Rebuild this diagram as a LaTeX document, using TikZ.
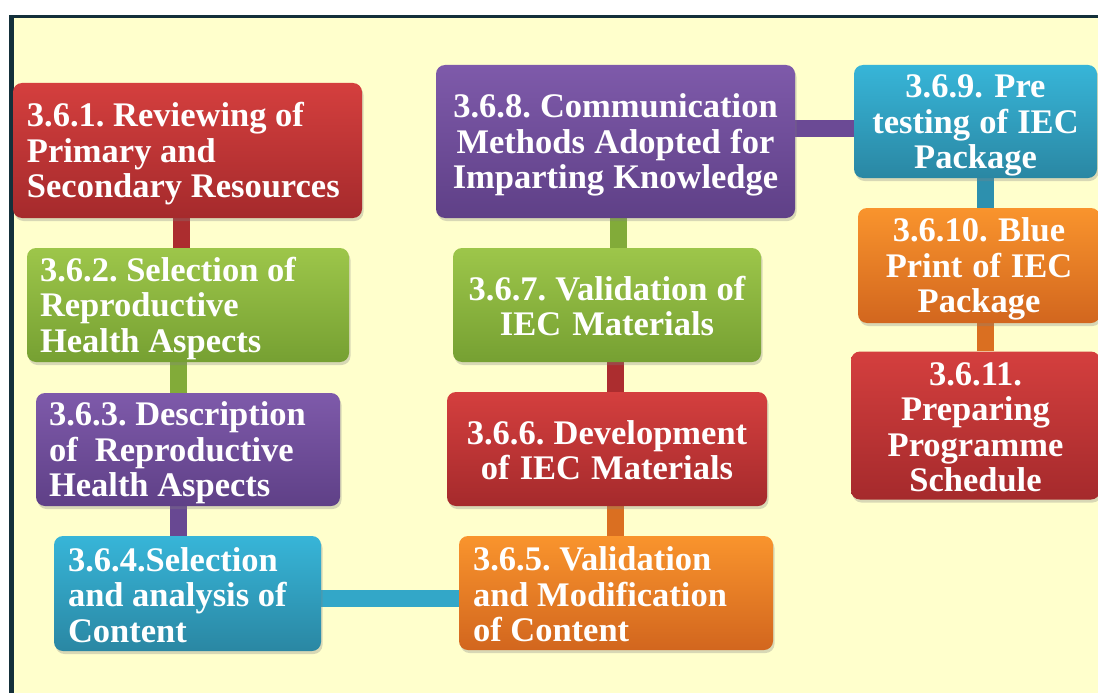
\documentclass[tikz,border=0pt]{standalone}
\usepackage{fontspec}
\setmainfont{Liberation Serif}
\usetikzlibrary{shadows}
\definecolor{bgyellow}{HTML}{FFFFCC}
\definecolor{framec}{HTML}{14303A}
\definecolor{redT}{HTML}{D43F3E}\definecolor{redB}{HTML}{A52A2C}
\definecolor{grnT}{HTML}{9DC64A}\definecolor{grnB}{HTML}{76A032}
\definecolor{purT}{HTML}{7E5AAA}\definecolor{purB}{HTML}{5F4087}
\definecolor{bluT}{HTML}{37B5D8}\definecolor{bluB}{HTML}{2A87A3}
\definecolor{orgT}{HTML}{F9942D}\definecolor{orgB}{HTML}{D2661E}
\pgfdeclarelayer{bg}\pgfdeclarelayer{bars}
\pgfsetlayers{bg,bars,main}
\newcommand\topstrut{\rule{0pt}{30.85pt}}
\newcommand\botstrut{\rule[-4.65pt]{0pt}{4.65pt}}
\begin{document}
\begin{tikzpicture}[x=1pt,y=-1pt,
  box/.style={rounded corners=9pt, text=white,
    font=\bfseries\fontsize{34.5}{35.5}\selectfont,
    inner ysep=0pt,
    execute at begin node={\spaceskip=0pt\xspaceskip=0pt\frenchspacing\topstrut},
    execute at end node=\botstrut,
    drop shadow={opacity=0.3, shadow xshift=1.5pt, shadow yshift=-3pt}},
  redbox/.style={box, top color=redT, bottom color=redB},
  grnbox/.style={box, top color=grnT, bottom color=grnB},
  purbox/.style={box, top color=purT, bottom color=purB},
  blubox/.style={box, top color=bluT, bottom color=bluB},
  orgbox/.style={box, top color=orgT, bottom color=orgB},
  bar/.style={line width=17pt},
]
\useasboundingbox (0,0) rectangle (1098,693);
\clip (0,0) rectangle (1098,693);
\begin{pgfonlayer}{bg}
  \fill[white] (0,0) rectangle (1098,693);
  \fill[bgyellow] (14,18) rectangle (1098,693);
  \fill[framec] (9,15) rectangle (1098,18);
  \fill[framec] (9,15) rectangle (14,693);
\end{pgfonlayer}

% left column
\node[redbox, minimum height=135pt, text width=321pt, inner xsep=14pt, align=left] (b1) at (187.5,150.5)
  {3.6.1. Reviewing of\\Primary and\\Secondary Resources};
\node[grnbox, minimum height=114pt, text width=296pt, inner xsep=13pt, align=left] (b2) at (188,305)
  {3.6.2. Selection of\\Reproductive\\Health Aspects};
\node[purbox, minimum height=113pt, text width=278pt, inner xsep=13pt, align=left] (b3) at (188,449.5)
  {3.6.3. Description\\of\ \ Reproductive\\Health Aspects};
\node[blubox, minimum height=115pt, text width=239pt, inner xsep=14pt, align=left] (b4) at (187.5,593.5)
  {3.6.4.Selection\\and analysis of\\Content};
% middle column
\node[orgbox, minimum height=114pt, text width=286pt, inner xsep=14pt, align=left] (b5) at (616,593)
  {3.6.5. Validation\\and Modification\\of Content};
\node[redbox, minimum height=114pt, text width=300pt, inner xsep=10pt, align=center] (b6) at (607,449)
  {3.6.6. Development\\of IEC Materials};
\node[grnbox, minimum height=114pt, text width=292pt, inner xsep=8pt, align=center] (b7) at (607,305)
  {3.6.7. Validation of\\IEC Materials};
\node[purbox, minimum height=153pt, text width=343pt, inner xsep=8pt, align=center] (b8) at (615.5,141.5)
  {3.6.8. Communication\\Methods Adopted for\\Imparting Knowledge};
% right column
\node[blubox, minimum height=113pt, text width=227pt, inner xsep=8pt, align=center] (b9) at (975.5,121.5)
  {3.6.9. Pre\\testing of IEC\\Package};
\node[orgbox, minimum height=115pt, text width=226pt, inner xsep=8pt, align=center] (b10) at (979,265.5)
  {3.6.10. Blue\\Print of IEC\\Package};
\node[redbox, minimum height=148pt, text width=233pt, inner xsep=8pt, align=center] (b11) at (975.5,425.5)
  {3.6.11.\\Preparing\\Programme\\Schedule};

\begin{pgfonlayer}{bars}
  \draw[bar, redB!85!redT] ([xshift=-6.5pt]b1.south) -- ([xshift=-7pt]b2.north);
  \draw[bar, grnB!70!grnT] ([xshift=-10pt]b2.south) -- ([xshift=-10pt]b3.north);
  \draw[bar, purB!70!purT] ([xshift=-10pt]b3.south) -- ([xshift=-9.5pt]b4.north);
  \draw[bar, bluT!70!bluB] ([yshift=-4.5pt]b4.east) -- ([yshift=-5pt]b5.west);
  \draw[bar, orgB!80!orgT] ([xshift=-1pt]b5.north) -- ([xshift=8pt]b6.south);
  \draw[bar, redB!85!redT] ([xshift=8pt]b6.north) -- ([xshift=8pt]b7.south);
  \draw[bar, grnB!70!grnT] ([xshift=11pt]b7.north) -- ([xshift=2.5pt]b8.south);
  \draw[bar, purB!60!purT] ([yshift=13.5pt]b8.east) -- ([yshift=-6.5pt]b9.west);
  \draw[bar, bluB!80!bluT] ([xshift=9.5pt]b9.south) -- ([xshift=6pt]b10.north);
  \draw[bar, orgB!80!orgT] ([xshift=6pt]b10.south) -- ([xshift=9.5pt]b11.north);
\end{pgfonlayer}
\end{tikzpicture}
\end{document}
